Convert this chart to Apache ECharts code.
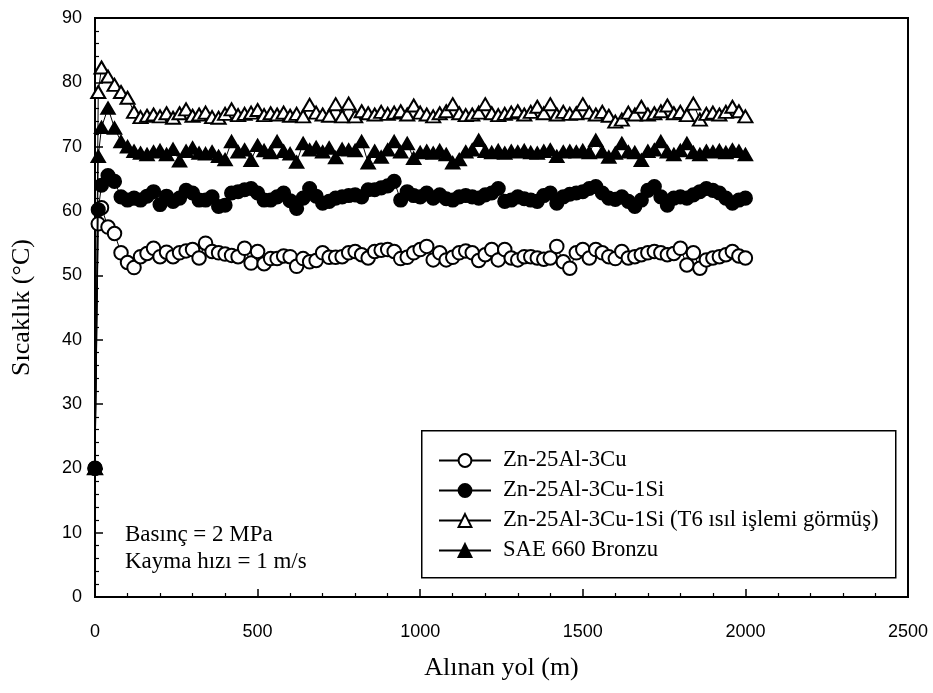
<!DOCTYPE html>
<html>
<head>
<meta charset="utf-8">
<script src="https://cdn.jsdelivr.net/npm/echarts@6/dist/echarts.min.js"></script>
<style>
  html, body { margin: 0; padding: 0; background: #fff; }
  #chart { width: 933px; height: 693px; }
</style>
</head>
<body>
<div id="chart"></div>
<script>
// Sliding distance (m) for every reading
const distances = [0, 10, 20,
  40, 60, 80, 100, 120, 140, 160, 180, 200, 220, 240, 260, 280, 300, 320, 340, 360, 380,
  400, 420, 440, 460, 480, 500, 520, 540, 560, 580, 600, 620, 640, 660, 680, 700, 720, 740, 760, 780,
  800, 820, 840, 860, 880, 900, 920, 940, 960, 980, 1000, 1020, 1040, 1060, 1080, 1100, 1120, 1140, 1160, 1180,
  1200, 1220, 1240, 1260, 1280, 1300, 1320, 1340, 1360, 1380, 1400, 1420, 1440, 1460, 1480, 1500, 1520, 1540, 1560, 1580,
  1600, 1620, 1640, 1660, 1680, 1700, 1720, 1740, 1760, 1780, 1800, 1820, 1840, 1860, 1880, 1900, 1920, 1940, 1960, 1980, 2000];

// Temperature (°C) of each material
const zn25Al3Cu = [20, 58, 60.5,
  57.5, 56.5, 53.5, 52, 51.2, 52.9, 53.4, 54.2, 52.9, 53.6, 52.9, 53.5, 53.8, 54, 52.7, 55, 53.7, 53.5,
  53.3, 53.1, 52.9, 54.2, 51.9, 53.7, 51.8, 52.6, 52.6, 53, 52.9, 51.4, 52.6, 52.1, 52.3, 53.5, 52.8, 52.8, 52.9, 53.5,
  53.7, 53.2, 52.7, 53.7, 53.9, 54, 53.7, 52.6, 52.8, 53.5, 54, 54.5, 52.4, 53.5, 52.4, 52.8, 53.5, 53.8, 53.5, 52.3,
  53.2, 54, 52.4, 54, 52.7, 52.4, 52.9, 52.9, 52.7, 52.5, 52.7, 54.5, 52.1, 51.1, 53.5, 54, 52.7, 54, 53.5, 52.9,
  52.6, 53.7, 52.7, 52.9, 53.2, 53.5, 53.7, 53.5, 53.2, 53.4, 54.2, 51.6, 53.5, 51.1, 52.4, 52.7, 52.9, 53.2, 53.7, 53, 52.7];

const zn25Al3Cu1Si = [20, 60.2, 64,
  65.5, 64.6, 62.2, 61.7, 62, 61.7, 62.3, 63, 61, 62.3, 61.5, 62, 63.2, 62.8, 61.7, 61.7, 62.2, 60.7,
  60.9, 62.8, 63, 63.3, 63.5, 62.8, 61.7, 61.7, 62.2, 62.8, 61.6, 60.4, 62, 63.5, 62.3, 61.2, 61.5, 62, 62.2, 62.4,
  62.5, 62.2, 63.3, 63.3, 63.6, 63.9, 64.6, 61.7, 63, 62.4, 62.2, 62.8, 62, 62.5, 61.9, 61.7, 62.2, 62.4, 62.2, 62,
  62.5, 62.8, 63.5, 61.5, 61.7, 62.2, 61.9, 61.7, 61.5, 62.4, 62.8, 61.2, 62.2, 62.6, 62.8, 63, 63.5, 63.8, 62.8, 62,
  61.8, 62.2, 61.5, 60.7, 61.7, 63.2, 63.8, 62.2, 60.9, 62, 62.2, 62, 62.5, 63, 63.5, 63.2, 62.8, 62, 61.2, 61.7, 62];

const zn25Al3Cu1SiT6 = [20, 78.5, 82.3,
  80.9, 79.6, 78.5, 77.6, 75.4, 74.6, 74.8, 75, 74.7, 75.2, 74.5, 75.2, 75.8, 74.8, 75, 75.3, 74.6, 74.5,
  75.1, 75.8, 74.9, 75.1, 75.3, 75.7, 74.9, 75.2, 75, 75.3, 74.8, 75.1, 74.7, 76.5, 75.3, 75, 74.8, 76.6, 74.7, 76.7,
  74.7, 75.5, 75.2, 75, 75.4, 75.1, 75.3, 75.5, 75, 76.4, 75.3, 75, 74.7, 75.2, 75.5, 76.6, 75.2, 74.9, 75, 75.3,
  76.6, 75.2, 74.9, 75.1, 75.3, 75.5, 75, 75.4, 76.2, 75.2, 76.6, 75, 75.4, 75.1, 75.2, 76.6, 75.3, 75, 75.4, 74.8,
  73.9, 74.2, 75.3, 75, 76.2, 75, 75.2, 75.5, 76.4, 75.2, 75.4, 74.9, 76.7, 74.2, 75.1, 75.3, 75, 75.4, 76.2, 75.5, 74.7];

const sae660Bronze = [20, 68.5, 73,
  76, 72.9, 70.8, 70, 69.3, 69, 68.8, 69.2, 69.4, 68.8, 69.6, 67.8, 69.3, 69.8, 69, 68.9, 69.2, 68.5,
  68, 70.8, 69.2, 69.5, 67.9, 70.2, 69.4, 69.1, 70.8, 69.3, 68.9, 67.6, 70.5, 69.5, 69.9, 69.2, 69.8, 68.3, 69.6, 69.5,
  69.4, 70.8, 67.5, 69.3, 68.4, 69.5, 70.8, 69.2, 70.5, 68.2, 69.1, 69.3, 69, 69.4, 68.8, 67.5, 68, 69.2, 69.5, 71,
  69.3, 69.1, 69.4, 69, 69.3, 69.2, 69.4, 69.1, 69, 69.3, 69.5, 68.5, 69.2, 69.3, 69.2, 69.4, 69.1, 71, 69.2, 68.4,
  69, 70.5, 69.2, 69.1, 67.9, 69.3, 69.5, 70.8, 69.2, 68.8, 69.4, 70.5, 69.1, 68.8, 69.3, 69.2, 69.4, 69.1, 69.5, 69.3, 68.8];

const seriesNames = [
  'Zn-25Al-3Cu',
  'Zn-25Al-3Cu-1Si',
  'Zn-25Al-3Cu-1Si (T6 ısıl işlemi görmüş)',
  'SAE 660 Bronzu'
];
const seriesValues = [zn25Al3Cu, zn25Al3Cu1Si, zn25Al3Cu1SiT6, sae660Bronze];
const seriesSymbols = ['emptyCircle', 'circle', 'emptyTriangle', 'triangle'];
const seriesSymbolSizes = [13.5, 13.5, [14, 12], [14, 12]];

const xTitle = 'Alınan yol (m)';
const yTitle = 'Sıcaklık (°C)';
const noteLines = ['Basınç = 2 MPa', 'Kayma hızı = 1 m/s'];

const SERIF = '"Liberation Serif", "Times New Roman", serif';
const SANS = '"Liberation Sans", Arial, sans-serif';

const chart = echarts.init(document.getElementById('chart'), null, { renderer: 'canvas' });

const series = seriesNames.map((name, i) => ({
  name: name,
  type: 'line',
  data: distances.map((d, k) => [d, seriesValues[i][k]]),
  symbol: seriesSymbols[i],
  symbolSize: seriesSymbolSizes[i],
  showAllSymbol: true,
  lineStyle: { color: '#000', width: 1 },
  itemStyle: { color: '#000', borderColor: '#000', borderWidth: 1.6 },
  emphasis: { disabled: true },
  z: 2 + i
}));

const axisCommon = {
  axisLine: { show: true, onZero: false, lineStyle: { color: '#000', width: 2 } },
  axisTick: { show: true, inside: true, length: 8, lineStyle: { color: '#000', width: 1.5 } },
  minorTick: { show: true, splitNumber: 5, length: 4, lineStyle: { color: '#000', width: 1.2 } },
  splitLine: { show: false },
  nameLocation: 'middle',
  nameTextStyle: { color: '#000', fontFamily: SERIF, fontSize: 26 }
};
const tickLabel = (margin) => ({
  color: '#000', fontFamily: SANS, fontSize: 18, margin: margin,
  formatter: (v) => String(v)
});

chart.setOption({
  animation: false,
  backgroundColor: '#fff',
  grid: {
    left: 95, right: 25, top: 18, bottom: 96,
    show: true, borderColor: '#000', borderWidth: 2, backgroundColor: 'transparent'
  },
  xAxis: Object.assign({}, axisCommon, {
    type: 'value', min: 0, max: 2500, interval: 500,
    name: xTitle, nameGap: 58,
    axisLabel: tickLabel(26)
  }),
  yAxis: Object.assign({}, axisCommon, {
    type: 'value', min: 0, max: 90, interval: 10,
    name: yTitle, nameGap: 60,
    axisLabel: tickLabel(13)
  }),
  legend: {
    orient: 'vertical',
    left: 438, top: 449,
    itemWidth: 52, itemHeight: 16, itemGap: 7,
    padding: 0,
    selectedMode: false,
    textStyle: { color: '#000', fontFamily: SERIF, fontSize: 22.7, lineHeight: 22, padding: [0, 0, 0, 7] },
    data: seriesNames
  },
  graphic: [
    {
      type: 'rect', left: 421, top: 430, z: 0, silent: true,
      shape: { width: 474, height: 147 },
      style: { fill: '#fff', stroke: '#000', lineWidth: 1.5 }
    },
    {
      type: 'text', left: 125, top: 523, silent: true,
      style: { text: noteLines[0], fill: '#000', font: '23px ' + SERIF }
    },
    {
      type: 'text', left: 125, top: 550, silent: true,
      style: { text: noteLines[1], fill: '#000', font: '23px ' + SERIF }
    }
  ],
  series: series
});
</script>
</body>
</html>
